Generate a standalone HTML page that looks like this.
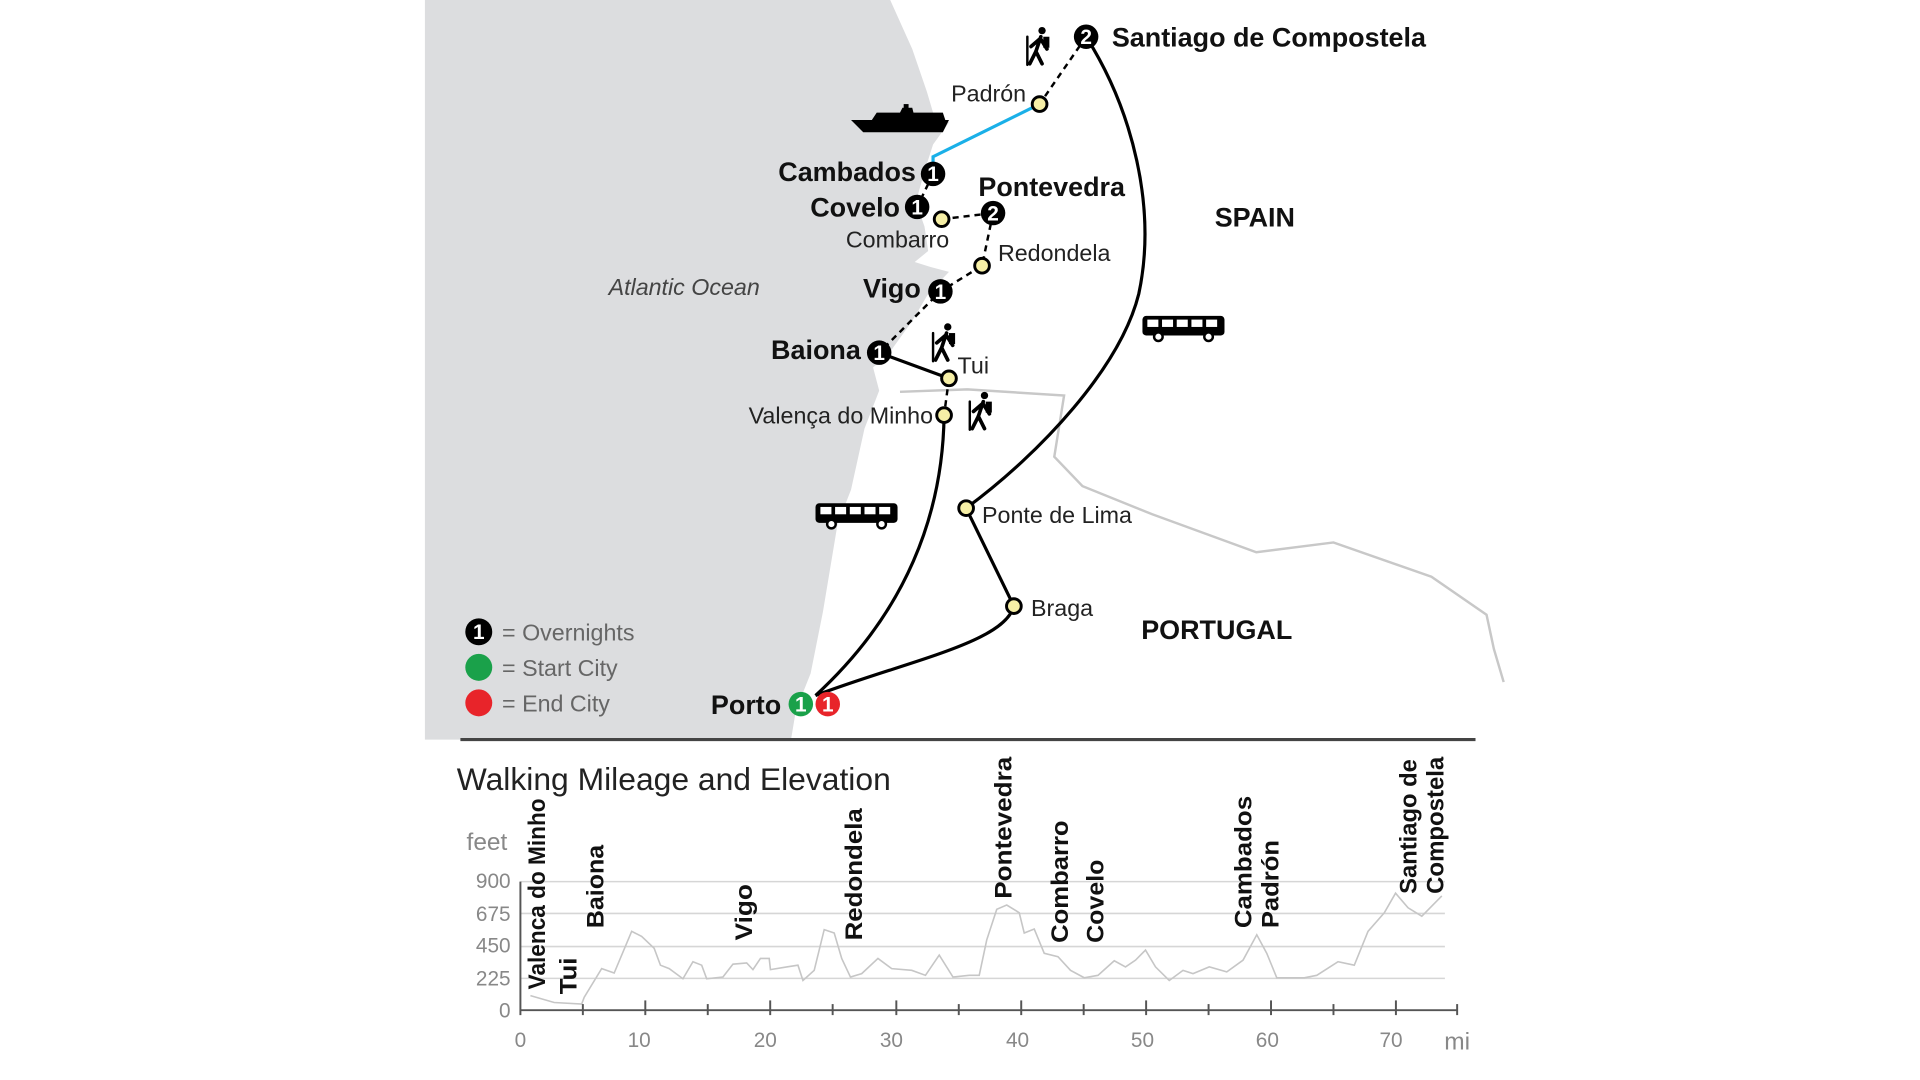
<!DOCTYPE html>
<html><head><meta charset="utf-8"><style>
html,body{margin:0;padding:0;background:#fff;}
svg{display:block;}
text{font-family:"Liberation Sans",sans-serif;}
.b{font-weight:bold;fill:#111;}
.n{fill:#222;}
.g{fill:#777;}
</style></head><body>
<svg width="1920" height="1080" viewBox="0 0 1568 882" preserveAspectRatio="none" xmlns="http://www.w3.org/2000/svg">
<rect width="1568" height="882" fill="#fff"/>
<!-- ocean -->
<polygon fill="#dcdddf" points="347,0 727,0 745,40 757,75 762,92 775,100 762,118 755,140 748,165 755,185 758,205 747,214 760,218 775,222 758,240 745,262 725,290 713,300 718,319 706,350 695,400 684,428 672,500 662,550 650,580 646,604 347,604"/>
<!-- border -->
<polyline fill="none" stroke="#c8c8c8" stroke-width="2" points="735,320 790,318 869,323 861,373 884,397 941,420 1026,451 1089,443 1169,471 1214,502 1220,530 1228,557"/>
<!-- routes -->
<g fill="none" stroke="#000" stroke-width="2.6">
<path d="M887,30 C925,90 945,170 930,240 C915,300 850,370 789,415"/>
<path d="M789,415 L828,495 C820,525 740,540 666,568"/>
<path d="M771,339 C770,420 740,500 666,568"/>
<path d="M718,288 L775,309"/>
</g>
<g fill="none" stroke="#000" stroke-width="2" stroke-dasharray="5,4">
<path d="M887,30 L849,85"/>
<path d="M762,142 L749,169"/>
<path d="M769,179 L811,174"/>
<path d="M811,174 L802,217 L768,238 L718,288"/>
<path d="M775,309 L771,339"/>
</g>
<polyline fill="none" stroke="#1ab0e8" stroke-width="2.6" points="849,85 762,128 762,142"/>
<!-- yellow nodes -->
<g fill="#f6efa6" stroke="#000" stroke-width="2.4">
<circle cx="849" cy="85" r="6"/><circle cx="769" cy="179" r="6"/><circle cx="802" cy="217" r="6"/>
<circle cx="775" cy="309" r="6"/><circle cx="771" cy="339" r="6"/><circle cx="789" cy="415" r="6"/><circle cx="828" cy="495" r="6"/>
</g>
<!-- numbered nodes -->
<g font-weight="bold" font-size="17" text-anchor="middle" fill="#fff">
<circle cx="887" cy="30" r="10" fill="#000"/><text x="887" y="36">2</text>
<circle cx="762" cy="142" r="10" fill="#000"/><text x="762" y="148">1</text>
<circle cx="749" cy="169" r="10" fill="#000"/><text x="749" y="175">1</text>
<circle cx="811" cy="174" r="10" fill="#000"/><text x="811" y="180">2</text>
<circle cx="768" cy="238" r="10" fill="#000"/><text x="768" y="244">1</text>
<circle cx="718" cy="288" r="10" fill="#000"/><text x="718" y="294">1</text>
<circle cx="654" cy="575" r="10" fill="#1aa14a"/><text x="654" y="581">1</text>
<circle cx="676" cy="575" r="10" fill="#e8242a"/><text x="676" y="581">1</text>
</g>
<!-- labels -->
<g font-size="22">
<text class="b" x="908" y="38">Santiago de Compostela</text>
<text class="b" x="748" y="148" text-anchor="end">Cambados</text>
<text class="b" x="735" y="177" text-anchor="end">Covelo</text>
<text class="b" x="799" y="160">Pontevedra</text>
<text class="b" x="752" y="243" text-anchor="end">Vigo</text>
<text class="b" x="703" y="293" text-anchor="end">Baiona</text>
<text class="b" x="638" y="583" text-anchor="end">Porto</text>
<text class="b" x="992" y="185">SPAIN</text>
<text class="b" x="932" y="522">PORTUGAL</text>
</g>
<g font-size="19" class="n">
<text x="838" y="83" text-anchor="end">Padrón</text>
<text x="733" y="202" text-anchor="middle">Combarro</text>
<text x="815" y="213">Redondela</text>
<text x="782" y="305">Tui</text>
<text x="762" y="346" text-anchor="end">Valença do Minho</text>
<text x="802" y="427">Ponte de Lima</text>
<text x="842" y="503">Braga</text>
<text x="497" y="241" font-style="italic" fill="#444">Atlantic Ocean</text>
</g>
<!-- legend -->
<g font-size="19" fill="#666">
<circle cx="391" cy="516" r="11" fill="#000"/><text x="391" y="522" font-size="17" font-weight="bold" fill="#fff" text-anchor="middle">1</text>
<circle cx="391" cy="545" r="11" fill="#1aa14a"/>
<circle cx="391" cy="574" r="11" fill="#e8242a"/>
<text x="410" y="523">= Overnights</text>
<text x="410" y="552">= Start City</text>
<text x="410" y="581">= End City</text>
</g>
<!-- bus icons -->
<g id="bus">
<rect x="933" y="258" width="67" height="16" rx="3" fill="#000"/>
<g fill="#fff"><rect x="937" y="261" width="9" height="6"/><rect x="949" y="261" width="9" height="6"/><rect x="961" y="261" width="9" height="6"/><rect x="973" y="261" width="9" height="6"/><rect x="985" y="261" width="9" height="6"/></g>
<circle cx="946" cy="275" r="3.5" fill="#fff" stroke="#000" stroke-width="2"/><circle cx="987" cy="275" r="3.5" fill="#fff" stroke="#000" stroke-width="2"/>
</g>
<use href="#bus" transform="translate(-267,153)"/>
<!-- boat -->
<polygon fill="#000" points="695,98 775,98 770,108 705,108"/>
<polygon fill="#000" points="712,98 716,92 735,92 737,88 745,88 746,92 770,92 772,98"/>
<rect x="738" y="85" width="4" height="4" fill="#000"/>
<!-- hikers -->
<g id="hk" fill="none" stroke="#000" stroke-width="3" stroke-linecap="round">
<circle cx="851" cy="25" r="3" fill="#000" stroke="none"/>
<path d="M850,30 L846,42 L841,52 M846,42 L851,52 M849,32 L842,38 M850,32 L855,40"/>
<path d="M839,30 L839,53" stroke-width="2"/>
<rect x="852" y="30" width="5" height="9" fill="#000" stroke="none"/>
</g>
<use href="#hk" transform="translate(-77,242)"/>
<use href="#hk" transform="translate(-47,298)"/>
<!-- separator -->
<line x1="376" y1="604" x2="1205" y2="604" stroke="#444" stroke-width="2.5"/>
<!-- chart -->
<text x="373" y="645" font-size="26" fill="#222">Walking Mileage and Elevation</text>
<text x="381" y="694" font-size="20" fill="#888">feet</text>
<g stroke="#d6d6d6" stroke-width="1.3">
<line x1="425" y1="720" x2="1180" y2="720"/><line x1="425" y1="746" x2="1180" y2="746"/>
<line x1="425" y1="773" x2="1180" y2="773"/><line x1="425" y1="799" x2="1180" y2="799"/>
</g>
<g font-size="17" fill="#888" text-anchor="end">
<text x="417" y="725">900</text><text x="417" y="752">675</text><text x="417" y="778">450</text><text x="417" y="805">225</text><text x="417" y="831">0</text>
</g>
<g transform="translate(425,825) scale(10.21,-0.1167)">
<polyline fill="none" stroke="#c6c6c6" stroke-width="1.6" vector-effect="non-scaling-stroke" points="0.8,102 2.7,54 4.9,43 5.1,90 6.5,291 7.5,260 8.9,552 9.7,516 10.7,433 11.2,315 11.9,291 13,220 13.8,339 14.5,315 14.9,220 16.2,232 17,322 18.1,331 18.6,284 19.2,362 19.9,362 20,284 21.3,303 22.2,315 22.6,208 23.5,279 24.3,564 25.1,540 25.7,362 26.4,232 27.3,256 28.6,362 29.7,291 31.3,279 32.4,244 33.5,386 34.6,232 35.9,244 36.7,244 37.3,492 38.1,706 38.9,736 39.9,682 40.3,540 41.1,568 41.9,398 43,374 44,279 45.1,227 46.2,244 47.5,346 48.4,303 49.2,350 50,421 50.8,303 51.9,208 53,279 53.8,256 55.1,303 56.5,268 57.8,350 58.9,528 59.7,398 60.5,227 62.7,227 63.7,244 65.4,339 66.7,315 67.8,552 69.1,682 70,819 71,717 72.1,658 73.7,800"/>
</g>
<g stroke="#555" stroke-width="1.6">
<line x1="425" y1="720" x2="425" y2="829"/>
<line x1="425" y1="825" x2="1190" y2="825"/>
<line x1="476" y1="820" x2="476" y2="829"/><line x1="527" y1="817" x2="527" y2="829"/>
<line x1="578" y1="820" x2="578" y2="829"/><line x1="629" y1="817" x2="629" y2="829"/>
<line x1="680" y1="820" x2="680" y2="829"/><line x1="732" y1="817" x2="732" y2="829"/>
<line x1="783" y1="820" x2="783" y2="829"/><line x1="834" y1="817" x2="834" y2="829"/>
<line x1="885" y1="820" x2="885" y2="829"/><line x1="936" y1="817" x2="936" y2="829"/>
<line x1="987" y1="820" x2="987" y2="829"/><line x1="1038" y1="817" x2="1038" y2="829"/>
<line x1="1089" y1="820" x2="1089" y2="829"/><line x1="1140" y1="817" x2="1140" y2="829"/>
<line x1="1190" y1="820" x2="1190" y2="829"/>
</g>
<g font-size="17" fill="#888" text-anchor="middle">
<text x="425" y="855">0</text><text x="522" y="855">10</text><text x="625" y="855">20</text><text x="728" y="855">30</text>
<text x="831" y="855">40</text><text x="933" y="855">50</text><text x="1035" y="855">60</text><text x="1136" y="855">70</text>
<text x="1190" y="857" font-size="20">mi</text>
</g>
<g font-size="20" font-weight="bold" fill="#111" font-family="DejaVu Sans, sans-serif">
<text transform="translate(445,808) rotate(-90)" textLength="156" lengthAdjust="spacingAndGlyphs">Valenca do Minho</text>
<text transform="translate(471,812) rotate(-90)" textLength="30" lengthAdjust="spacingAndGlyphs">Tui</text>
<text transform="translate(493,758) rotate(-90)" textLength="68" lengthAdjust="spacingAndGlyphs">Baiona</text>
<text transform="translate(614,768) rotate(-90)" textLength="46" lengthAdjust="spacingAndGlyphs">Vigo</text>
<text transform="translate(704,768) rotate(-90)" textLength="108" lengthAdjust="spacingAndGlyphs">Redondela</text>
<text transform="translate(826,734) rotate(-90)" textLength="116" lengthAdjust="spacingAndGlyphs">Pontevedra</text>
<text transform="translate(872,770) rotate(-90)" textLength="100" lengthAdjust="spacingAndGlyphs">Combarro</text>
<text transform="translate(901,770) rotate(-90)" textLength="68" lengthAdjust="spacingAndGlyphs">Covelo</text>
<text transform="translate(1022,758) rotate(-90)" textLength="108" lengthAdjust="spacingAndGlyphs">Cambados</text>
<text transform="translate(1044,758) rotate(-90)" textLength="72" lengthAdjust="spacingAndGlyphs">Padrón</text>
<text transform="translate(1157,730) rotate(-90)" textLength="110" lengthAdjust="spacingAndGlyphs">Santiago de</text>
<text transform="translate(1179,730) rotate(-90)" textLength="112" lengthAdjust="spacingAndGlyphs">Compostela</text>
</g>
</svg>
</body></html>
